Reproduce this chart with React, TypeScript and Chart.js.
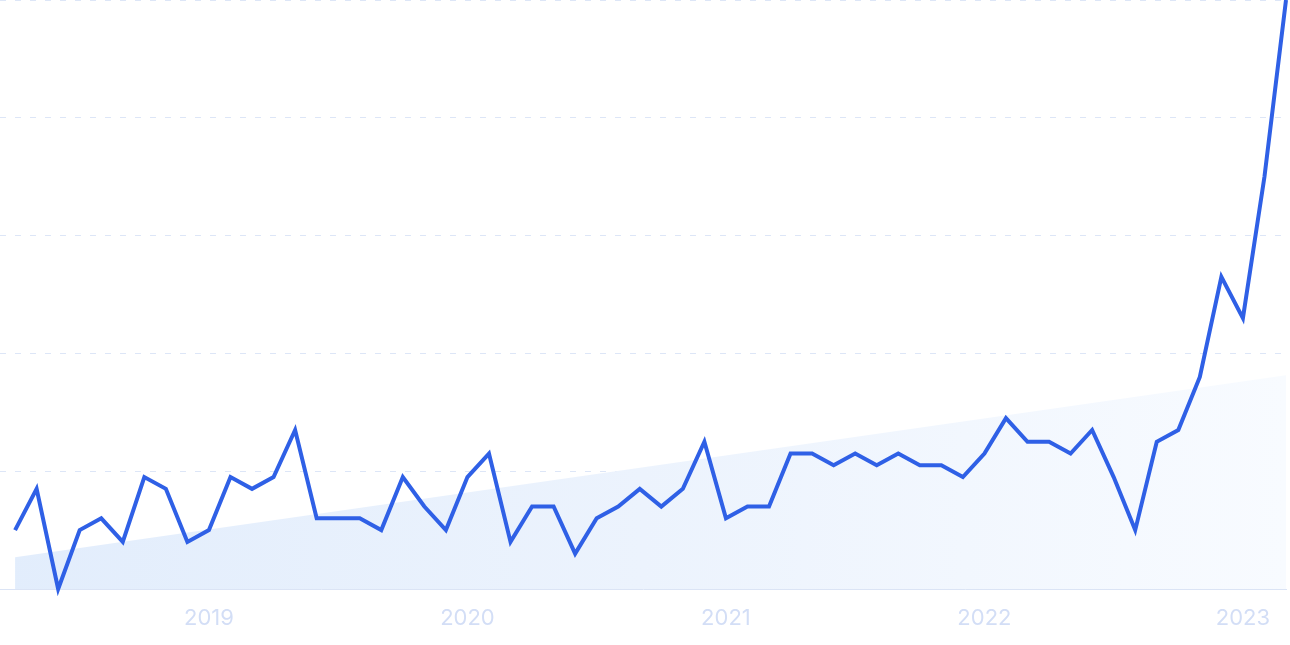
import React, { useEffect, useRef } from "react";
import { Chart, registerables } from "chart.js";

Chart.register(...registerables);

// Monthly categories, April 2018 → March 2023
const months: string[] = [
  "2018-04","2018-05","2018-06","2018-07","2018-08","2018-09","2018-10","2018-11","2018-12",
  "2019-01","2019-02","2019-03","2019-04","2019-05","2019-06","2019-07","2019-08","2019-09","2019-10","2019-11","2019-12",
  "2020-01","2020-02","2020-03","2020-04","2020-05","2020-06","2020-07","2020-08","2020-09","2020-10","2020-11","2020-12",
  "2021-01","2021-02","2021-03","2021-04","2021-05","2021-06","2021-07","2021-08","2021-09","2021-10","2021-11","2021-12",
  "2022-01","2022-02","2022-03","2022-04","2022-05","2022-06","2022-07","2022-08","2022-09","2022-10","2022-11","2022-12",
  "2023-01","2023-02","2023-03",
];

const interest: number[] = [
  10, 17, 0, 10, 12, 8, 19, 17, 8,
  10, 19, 17, 19, 27, 12, 12, 12, 10, 19, 14, 10,
  19, 23, 8, 14, 14, 6, 12, 14, 17, 14, 17, 25,
  12, 14, 14, 23, 23, 21, 23, 21, 23, 21, 21, 19,
  23, 29, 25, 25, 23, 27, 19, 10, 25, 27, 36, 53,
  46, 70, 100,
];

// Trend line endpoints (first and last month)
const trendValues: number[] = [5.4, 36.3];

const yTicks: number[] = [0, 20, 40, 60, 80, 100];

export default function App() {
  const ref = useRef<HTMLCanvasElement | null>(null);

  useEffect(() => {
    document.body.style.margin = "0";
    const canvas = ref.current;
    if (!canvas) return;

    const lineData = interest.map((v, i) => ({ x: i, y: v }));
    const trendData = [
      { x: 0, y: trendValues[0] },
      { x: months.length - 1, y: trendValues[1] },
    ];

    const chart = new Chart(canvas, {
      type: "line",
      data: {
        datasets: [
          {
            label: "Interest",
            data: lineData,
            borderColor: "#2f60e6",
            borderWidth: 4,
            pointRadius: 0,
            tension: 0,
            fill: false,
            clip: false as any,
            order: 0,
          },
          {
            label: "Trend",
            data: trendData,
            borderWidth: 0,
            borderColor: "rgba(0,0,0,0)",
            pointRadius: 0,
            fill: "origin",
            order: 1,
            backgroundColor: (ctx: any) => {
              const area = ctx.chart.chartArea;
              if (!area) return "rgba(227,238,252,1)";
              const g = ctx.chart.ctx.createLinearGradient(area.left, 0, area.right, 0);
              g.addColorStop(0, "rgba(226,237,252,1)");
              g.addColorStop(0.5, "rgba(236,243,253,1)");
              g.addColorStop(1, "rgba(248,251,255,1)");
              return g;
            },
          },
        ],
      },
      options: {
        animation: false,
        responsive: true,
        maintainAspectRatio: false,
        layout: { padding: { left: 0, right: 4, top: 0, bottom: 0 } },
        plugins: { legend: { display: false }, tooltip: { enabled: false } },
        scales: {
          x: {
            type: "linear",
            min: -0.7,
            max: months.length - 1,
            grid: { display: false, drawTicks: false },
            border: { display: true, color: "#dbe4f5", width: 1 },
            afterBuildTicks: (axis: any) => {
              axis.ticks = months
                .map((m, i) => ({ m, i }))
                .filter((o) => o.m.endsWith("-01"))
                .map((o) => ({ value: o.i }));
            },
            afterFit: (axis: any) => {
              axis.height = 56;
            },
            ticks: {
              autoSkip: false,
              maxRotation: 0,
              padding: 16,
              color: "#d3def6",
              font: { family: "Inter", size: 22 },
              callback: (v: any) => months[Number(v)]?.slice(0, 4) ?? "",
            },
          },
          y: {
            min: 0,
            max: 100,
            afterBuildTicks: (axis: any) => {
              axis.ticks = yTicks.map((v) => ({ value: v }));
            },
            ticks: { display: false },
            border: { display: false, dash: [6, 9] },
            grid: {
              drawTicks: false,
              color: (ctx: any) => (ctx.tick && ctx.tick.value === 0 ? "rgba(0,0,0,0)" : "#dde6f7"),
              lineWidth: 1,
            },
          },
        },
      },
    });

    return () => chart.destroy();
  }, []);

  return (
    <div style={{ width: 1290, height: 645, position: "relative" }}>
      <canvas ref={ref} />
    </div>
  );
}
